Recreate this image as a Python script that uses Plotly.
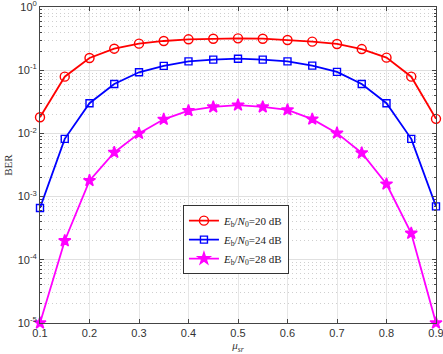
import plotly.graph_objects as go

mu = [0.1, 0.15, 0.2, 0.25, 0.3, 0.35, 0.4, 0.45, 0.5, 0.55, 0.6, 0.65, 0.7, 0.75, 0.8, 0.85, 0.9]
ber_20 = [0.018, 0.079, 0.156, 0.219, 0.263, 0.29, 0.308, 0.315, 0.319, 0.315, 0.30, 0.283, 0.26, 0.216, 0.158, 0.079, 0.017]
ber_24 = [6.6e-4, 0.0082, 0.030, 0.0605, 0.0926, 0.117, 0.138, 0.147, 0.152, 0.147, 0.138, 0.118, 0.094, 0.0605, 0.030, 0.0082, 7.0e-4]
ber_28 = [1.0e-5, 2.0e-4, 1.79e-3, 5.0e-3, 0.0100, 0.0167, 0.0229, 0.0262, 0.028, 0.0262, 0.0235, 0.0168, 0.0101, 0.0049, 1.58e-3, 2.63e-4, 1.0e-5]

names = ["<i>E</i><sub>b</sub>/<i>N</i><sub>0</sub>=20 dB",
         "<i>E</i><sub>b</sub>/<i>N</i><sub>0</sub>=24 dB",
         "<i>E</i><sub>b</sub>/<i>N</i><sub>0</sub>=28 dB"]
colors = ["#ff0000", "#0000ff", "#ff00ff"]
symbols = ["circle-open", "square-open", "star"]
sizes = [9, 7, 9]

ytick_vals = [1e-5, 1e-4, 1e-3, 1e-2, 1e-1, 1]
ytick_text = ["10<sup>-5</sup>", "10<sup>-4</sup>", "10<sup>-3</sup>", "10<sup>-2</sup>", "10<sup>-1</sup>", "10<sup>0</sup>"]
xtick_vals = [0.1, 0.2, 0.3, 0.4, 0.5, 0.6, 0.7, 0.8, 0.9]

minor_vals = [m * 10.0 ** e for e in range(-5, 0) for m in range(2, 10)]

fig = go.Figure()
for ys, nm, c, s, sz in zip([ber_20, ber_24, ber_28], names, colors, symbols, sizes):
    fig.add_trace(go.Scatter(
        x=mu, y=ys, name=nm, mode="lines+markers",
        line=dict(color=c, width=1.8),
        marker=dict(symbol=s, size=sz, color=c, line=dict(color=c, width=1.4)),
        cliponaxis=False,
    ))

axis_common = dict(
    showline=True, linecolor="#444444", linewidth=1, mirror="ticks",
    ticks="inside", ticklen=4, tickcolor="#444444",
    tickfont=dict(family="Liberation Sans, Arial, sans-serif", size=11, color="#333333"),
    zeroline=False, automargin=False, ticklabeloverflow="allow",
)

fig.update_xaxes(
    range=[0.1, 0.9], tickvals=xtick_vals, ticktext=[str(v) for v in xtick_vals],
    showgrid=True, gridcolor="#e6e6e6", gridwidth=1,
    title=dict(text="<i>μ</i><sub><i>sr</i></sub>", font=dict(family="Liberation Serif, serif", size=11, color="#333333"), standoff=1),
    **axis_common,
)
fig.update_yaxes(
    type="log", range=[-5, 0], tickvals=ytick_vals, ticktext=ytick_text,
    showgrid=True, gridcolor="#e0e0e0", gridwidth=1,
    minor=dict(tickmode="array", tickvals=minor_vals, ticks="inside", ticklen=2, tickcolor="#444444",
               showgrid=True, gridcolor="#cfcfcf", griddash="1px,3px", gridwidth=1),
    title=dict(text="BER", font=dict(family="Liberation Serif, serif", size=11, color="#333333"), standoff=2),
    **axis_common,
)

fig.update_layout(
    width=443, height=354,
    margin=dict(l=40, r=7, t=7, b=31),
    plot_bgcolor="white", paper_bgcolor="white",
    showlegend=True,
    legend=dict(x=0.361, y=0.373, xanchor="left", yanchor="top",
                bgcolor="white", bordercolor="#333333", borderwidth=1,
                font=dict(family="Liberation Serif, serif", size=11, color="#222222"),
                tracegroupgap=0, itemwidth=30),
)

fig.write_html(
    "out.html",
    config={"displayModeBar": False},
    post_script="document.body.style.margin='0';document.body.style.overflow='hidden';window.scrollTo(0,0);",
)
